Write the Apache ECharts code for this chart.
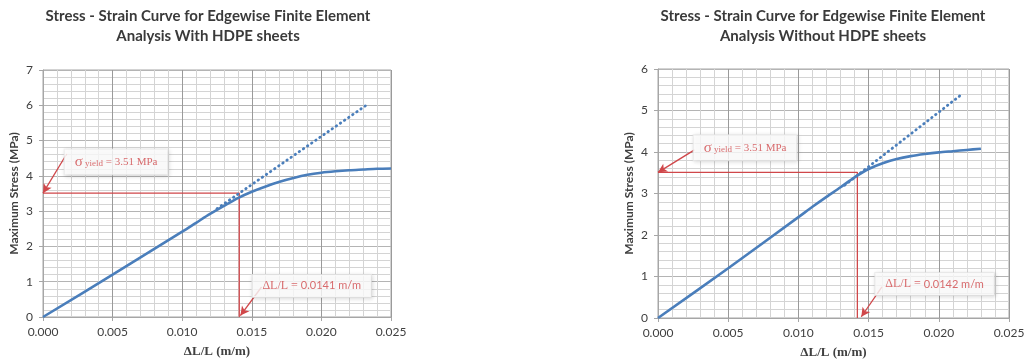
<!DOCTYPE html>
<html>
<head>
<meta charset="utf-8">
<script src="https://cdn.jsdelivr.net/npm/echarts@6/dist/echarts.min.js"></script>
<style>
  html, body { margin: 0; padding: 0; background: #ffffff; }
  #chart { width: 1024px; height: 359px; }
</style>
</head>
<body>
<div id="chart"></div>
<script>
// Strain (m/m) and stress (MPa), FE model with HDPE sheets
const strainWith = [0, 0.005, 0.010, 0.011, 0.012, 0.013, 0.014, 0.015, 0.016, 0.017, 0.018, 0.019, 0.020, 0.021, 0.022, 0.023, 0.024, 0.025];
const stressWith = [0, 1.20, 2.42, 2.67, 2.92, 3.15, 3.37, 3.55, 3.70, 3.83, 3.94, 4.03, 4.09, 4.13, 4.16, 4.18, 4.20, 4.21];
// Elastic trend extension (dotted)
const trendWith = [[0.0125, 3.07], [0.0234, 6.05]];
const yieldWith = { strain: 0.0141, stress: 3.51 };

// FE model without HDPE sheets
const strainWithout = [0, 0.005, 0.010, 0.011, 0.012, 0.013, 0.014, 0.015, 0.016, 0.017, 0.018, 0.019, 0.020, 0.021, 0.022, 0.023];
const stressWithout = [0, 1.20, 2.43, 2.68, 2.92, 3.15, 3.39, 3.59, 3.73, 3.83, 3.90, 3.95, 3.99, 4.02, 4.05, 4.08];
const trendWithout = [[0.0133, 3.20], [0.0216, 5.38]];
const yieldWithout = { strain: 0.0142, stress: 3.51 };

// Axis ranges
const xMax = 0.025;
const yMaxWith = 7;
const yMaxWithout = 6;

const titles = [
  'Stress - Strain Curve for Edgewise Finite Element\nAnalysis With HDPE sheets',
  'Stress - Strain Curve for Edgewise Finite Element\nAnalysis Without HDPE sheets'
];

const BLUE = '#4a7ebb';
const RED = '#d0474a';

function pairs(xs, ys) { return xs.map((x, i) => [x, ys[i]]); }

function xAxisFor(idx) {
  return {
    type: 'value', gridIndex: idx, min: 0, max: xMax, interval: 0.005,
    name: 'ΔL/L (m/m)', nameLocation: 'middle', nameGap: 28,
    nameTextStyle: { fontFamily: 'Liberation Serif', fontWeight: 'bold', fontSize: 13, color: '#404040' },
    axisLine: { show: true, lineStyle: { color: '#a6a6a6' } },
    axisTick: { show: true, length: 4, lineStyle: { color: '#a6a6a6' } },
    axisLabel: { formatter: v => v.toFixed(3), fontFamily: 'Lato', fontSize: 12, color: '#404040', margin: 9 },
    splitLine: { show: true, lineStyle: { color: '#9a9a9a', width: 1 } },
    minorTick: { show: false, splitNumber: 5 },
    minorSplitLine: { show: true, lineStyle: { color: '#d4d4d4', width: 1 } }
  };
}

function yAxisFor(idx, max) {
  return {
    type: 'value', gridIndex: idx, min: 0, max: max, interval: 1,
    name: 'Maximum Stress (MPa)', nameLocation: 'middle', nameGap: 23,
    nameTextStyle: { fontFamily: 'Lato', fontWeight: 'bold', fontSize: 12, color: '#404040' },
    axisLine: { show: true, lineStyle: { color: '#a6a6a6' } },
    axisTick: { show: true, length: 4, lineStyle: { color: '#a6a6a6' } },
    axisLabel: { fontFamily: 'Lato', fontSize: 12, color: '#404040', margin: 10 },
    splitLine: { show: true, lineStyle: { color: '#b4b4b4', width: 1 } },
    minorTick: { show: false, splitNumber: 5 },
    minorSplitLine: { show: true, lineStyle: { color: '#d4d4d4', width: 1 } }
  };
}

const boxLabel = {
  show: true, position: 'inside',
  backgroundColor: '#ffffff', borderColor: '#ececec', borderWidth: 1,
  shadowColor: 'rgba(0,0,0,0.15)', shadowBlur: 4, shadowOffsetX: 1, shadowOffsetY: 1,
  padding: [5, 10, 5, 10]
};

function sigmaLabel(val) {
  return Object.assign({}, boxLabel, {
    formatter: '{s|σ}{y| yield}{t| = ' + val.toFixed(2) + ' MPa}',
    rich: {
      s: { fontFamily: 'Liberation Serif', fontSize: 15, color: RED },
      y: { fontFamily: 'Liberation Serif', fontSize: 9, color: RED, padding: [3, 0, 0, 0] },
      t: { fontFamily: 'Liberation Serif', fontSize: 11, color: RED }
    }
  });
}

function strainLabel(val) {
  return Object.assign({}, boxLabel, {
    formatter: '{d|ΔL/L = }{n|' + val.toFixed(4) + ' m/m}',
    rich: {
      d: { fontFamily: 'Liberation Serif', fontSize: 12, color: RED },
      n: { fontFamily: 'Lato', fontSize: 11, color: RED }
    }
  });
}

function seriesFor(idx, xs, ys, trend, yld, sigmaAt, sigmaFrom, strainAt, strainFrom, arrowTip) {
  return [
    {
      type: 'line', xAxisIndex: idx, yAxisIndex: idx, data: pairs(xs, ys),
      smooth: 0.3, showSymbol: false, z: 5,
      lineStyle: { color: BLUE, width: 2.6 }
    },
    {
      type: 'line', xAxisIndex: idx, yAxisIndex: idx, data: trend,
      showSymbol: false, z: 4,
      lineStyle: { color: BLUE, width: 2.8, type: [0.5, 4.5], cap: 'round' }
    },
    {
      // yield guide lines and pointer arrows
      type: 'line', xAxisIndex: idx, yAxisIndex: idx,
      data: [[0, yld.stress], [yld.strain, yld.stress], [yld.strain, 0]],
      showSymbol: false, z: 3,
      lineStyle: { color: RED, width: 1.3 },
      markLine: {
        silent: true, symbol: ['none', 'arrow'], symbolSize: [7, 9],
        label: { show: false },
        lineStyle: { color: RED, width: 1.3, type: 'solid' },
        data: [
          [{ coord: sigmaFrom }, { coord: [0, yld.stress] }],
          [{ coord: strainFrom }, { coord: arrowTip }]
        ]
      }
    },
    {
      type: 'scatter', xAxisIndex: idx, yAxisIndex: idx, symbolSize: 0, z: 10,
      data: [sigmaAt], label: sigmaLabel(yld.stress)
    },
    {
      type: 'scatter', xAxisIndex: idx, yAxisIndex: idx, symbolSize: 0, z: 10,
      data: [strainAt], label: strainLabel(yld.strain)
    }
  ];
}

const chart = echarts.init(document.getElementById('chart'), null, { renderer: 'canvas' });

const titleStyle = { fontFamily: 'Lato', fontWeight: 'bold', fontSize: 15, color: '#3a3a3a', lineHeight: 20 };

chart.setOption({
  backgroundColor: '#ffffff',
  animation: false,
  title: [
    { text: titles[0], left: 203, top: 1, textAlign: 'center', textStyle: titleStyle },
    { text: titles[1], left: 818, top: 1, textAlign: 'center', textStyle: titleStyle }
  ],
  grid: [
    { left: 43, top: 70, width: 348, height: 247, show: true, borderColor: '#a6a6a6', borderWidth: 1,
      containLabel: false, outerBoundsMode: 'none' },
    { left: 658, top: 69, width: 351, height: 249, show: true, borderColor: '#a6a6a6', borderWidth: 1,
      containLabel: false, outerBoundsMode: 'none' }
  ],
  xAxis: [xAxisFor(0), xAxisFor(1)],
  yAxis: [yAxisFor(0, yMaxWith), yAxisFor(1, yMaxWithout)],
  series: [].concat(
    seriesFor(0, strainWith, stressWith, trendWith, yieldWith,
      [0.00525, 4.39], [0.0017, 4.62], [0.0193, 0.88], [0.0157, 0.85], [0.01418, 0.04]),
    seriesFor(1, strainWithout, stressWithout, trendWithout, yieldWithout,
      [0.0062, 4.1], [0.0026, 4.05], [0.0197, 0.82], [0.01595, 0.75], [0.01448, 0.03])
  )
});
</script>
</body>
</html>
